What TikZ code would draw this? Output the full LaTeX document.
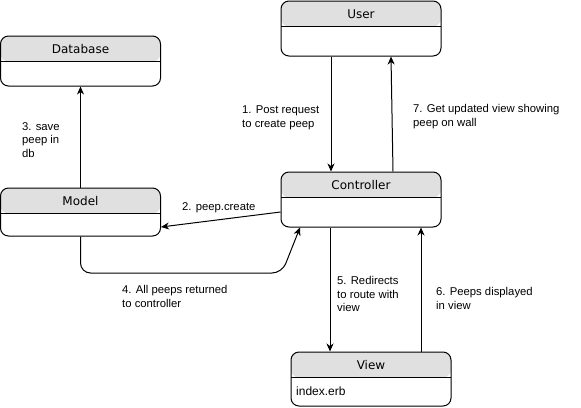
\documentclass[tikz,border=0pt]{standalone}
\usepackage{fontspec}
\setmainfont{Liberation Sans}
\newfontfamily\titlefont{DejaVu Sans}
\usetikzlibrary{arrows.meta}
\definecolor{hdrgray}{HTML}{E0E0E0}
\tikzset{
  x=1pt, y=-1pt,
  umlbox/.style={draw, line width=1pt, rounded corners=8pt, fill=white,
    minimum width=160pt, inner sep=0pt,
    path picture={
      \fill[hdrgray] (path picture bounding box.north west) rectangle ([yshift=-25.5pt]path picture bounding box.north east);
      \draw[line width=1pt] ([yshift=-25.5pt]path picture bounding box.north west) -- ([yshift=-25.5pt]path picture bounding box.north east);
    }},
  boxtitle/.style={font=\titlefont\fontsize{12}{14}\selectfont, inner sep=0pt, anchor=center},
  lbl/.style={font=\fontsize{11.3}{13.7}\selectfont, align=left, inner sep=0pt, anchor=north west},
  arr/.style={line width=1pt, -{Stealth[length=8pt,width=7pt,inset=2.5pt]}}
}
\begin{document}
\begin{tikzpicture}
\useasboundingbox (0,0) rectangle (581,407);
% boxes
\node[umlbox, minimum height=50pt] (db) at (80.5,61) {};
\node[boxtitle] (dbt) at ([yshift=-13.25pt]db.north) {Database};
\node[umlbox, minimum height=48pt] (model) at (80.5,212) {};
\node[boxtitle] (modelt) at ([yshift=-13.25pt]model.north) {Model};
\node[umlbox, minimum height=55pt] (user) at (361,28.5) {};
\node[boxtitle] (usert) at ([yshift=-13.25pt]user.north) {User};
\node[umlbox, minimum height=55pt] (ctrl) at (361,199.5) {};
\node[boxtitle] (ctrlt) at ([yshift=-13.25pt]ctrl.north) {Controller};
\node[umlbox, minimum height=54pt] (view) at (371,379) {};
\node[boxtitle] (viewt) at ([yshift=-13.25pt]view.north) {View};
\node[font=\fontsize{12}{14}\selectfont, inner sep=0pt, anchor=base west] (erb) at (296,395) {index.erb};
% connectors
\coordinate (k) at (282,273);
\draw[arr] ([xshift=-30pt]user.south) -- ([xshift=-30pt]ctrl.north);
\draw[arr] ([xshift=32pt]ctrl.north) -- ([xshift=30pt]user.south);
\draw[arr] (model.north) -- (db.south);
\draw[arr] ([yshift=-12.5pt]ctrl.west) -- ([yshift=-15pt]model.east);
\draw[arr, rounded corners=10pt] (model.south) |- (k) -- ([xshift=-61pt]ctrl.south);
\draw[arr] ([xshift=-31pt]ctrl.south) -- ([xshift=-41pt]view.north);
\draw[arr] ([xshift=50pt]view.north) -- ([xshift=60pt]ctrl.south);
% labels
\node[lbl] (l1) at (242,106) {1. Post request\\to create peep};
\node[lbl] (l7) at (413,104) {7. Get updated view showing\\peep on wall};
\node[lbl] (l3) at (22,122) {3. save\\peep in\\db};
\node[lbl] (l2) at (182,202) {2. peep.create};
\node[lbl] (l4) at (122,285) {4. All peeps returned\\to controller};
\node[lbl] (l5) at (337,276) {5. Redirects\\to route with\\view};
\node[lbl] (l6) at (436,287) {6. Peeps displayed\\in view};
\end{tikzpicture}
\end{document}
